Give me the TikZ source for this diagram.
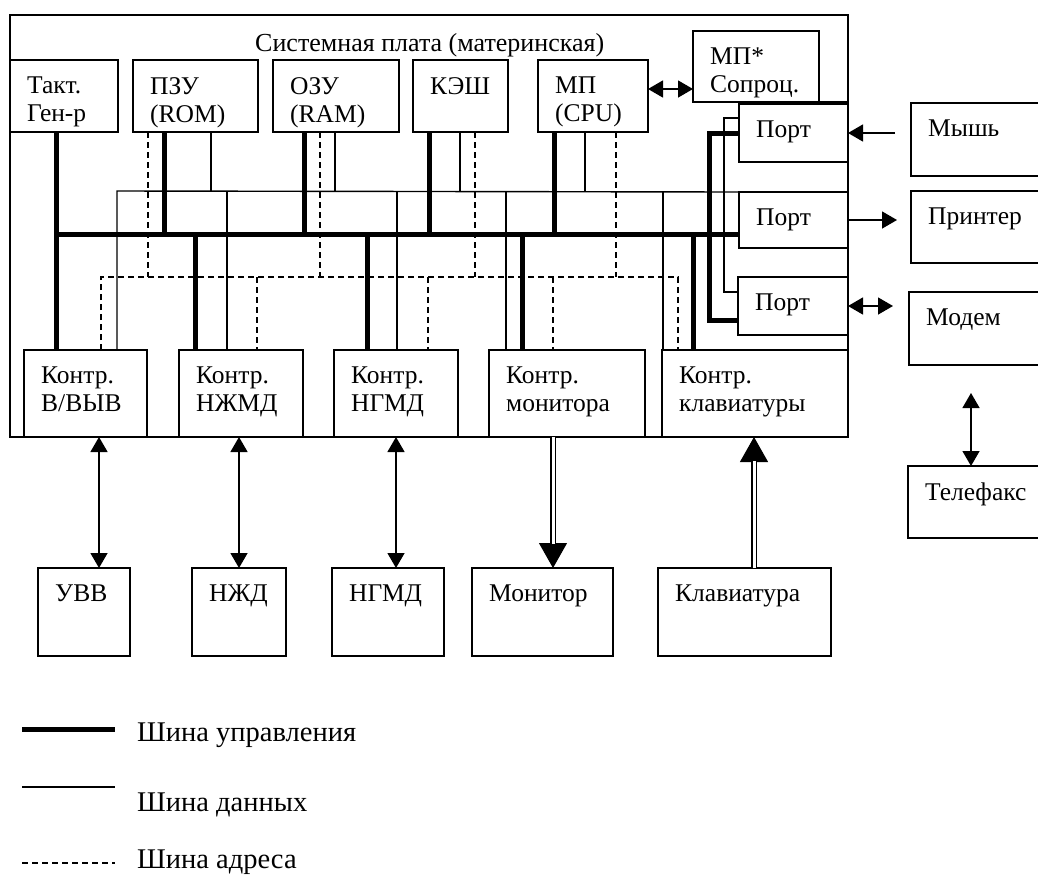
\documentclass[tikz,border=0pt]{standalone}
\usepackage{fontspec}
\setmainfont{Liberation Serif}
\usetikzlibrary{arrows.meta}
\newcommand\fs{\fontsize{25.5}{28}\selectfont}
\newcommand\tfs{\fontsize{26}{28}\selectfont}
\newcommand\lfs{\fontsize{28.5}{30}\selectfont}
\newcommand\mybox[6]{%
  \node[box, minimum width={#4-#2}, minimum height={#5-#3}] (#1) at (#2,#3) {};
  \node[txt] (#1-t) at ([xshift=17pt,yshift=-17pt]#1.north west) {#6};}
\begin{document}
\begin{tikzpicture}[x=1pt,y=-1pt,
  box/.style={draw, line width=1.8pt, inner sep=0pt, outer sep=0pt, anchor=north west},
  txt/.style={anchor=north west, inner sep=0pt, align=left, font=\fs},
  ctrl/.style={line width=5pt},
  data/.style={line width=1.4pt},
  addr/.style={line width=1.4pt, dash pattern=on 6pt off 4pt},
  sarr/.style={line width=1.4pt, >={Triangle[length=15pt,width=17pt]}},
  dbl/.style={double, line width=1.2pt, double distance=3pt},
  big/.style={line width=1pt, >={Triangle[length=25pt,width=28pt]}},
  leg/.style={anchor=north west, inner sep=0pt, font=\lfs}]
\useasboundingbox (0,0) rectangle (1038,876);
\fill[white] (0,0) rectangle (1038,876);

% system board
\node[box] (board) at (10,15) [minimum width=838, minimum height=422] {};
\node[txt, font=\tfs] (title) at (255,33) {Системная плата (материнская)};

% top row
\mybox{tg}{10}{60}{118}{132}{Такт.\\Ген-р}
\mybox{rom}{133}{60}{258}{132}{ПЗУ\\(ROM)}
\mybox{ram}{273}{60}{399}{132}{ОЗУ\\(RAM)}
\mybox{cache}{413}{60}{508}{132}{КЭШ}
\mybox{cpu}{538}{60}{648}{132}{МП\\(CPU)}
\mybox{cop}{693}{31}{819}{102}{МП*\\Сопроц.}
\draw[line width=1.8pt] (cop.south east) -- (cop.south east -| board.east);

% ports
\mybox{p1}{739}{104}{848}{162}{Порт}
\mybox{p2}{739}{192}{848}{248}{Порт}
\mybox{p3}{738}{277}{848}{335}{Порт}

% controllers
\mybox{cio}{24}{350}{147}{437}{Контр.\\В/ВЫВ}
\mybox{chd}{179}{350}{303}{437}{Контр.\\НЖМД}
\mybox{cfd}{334}{350}{458}{437}{Контр.\\НГМД}
\mybox{cmon}{489}{350}{645}{437}{Контр.\\монитора}
\mybox{ckbd}{662}{350}{848}{437}{Контр.\\клавиатуры}

% external devices
\mybox{mouse}{911}{103}{1060}{176}{Мышь}
\mybox{printer}{911}{191}{1060}{263}{Принтер}
\mybox{modem}{909}{292}{1060}{365}{Модем}
\mybox{fax}{908}{466}{1060}{538}{Телефакс}
\mybox{uvv}{38}{568}{130}{656}{УВВ}
\mybox{nzhd}{192}{568}{286}{656}{НЖД}
\mybox{ngmd}{332}{568}{444}{656}{НГМД}
\mybox{mon}{472}{568}{613}{656}{Монитор}
\mybox{kbd}{658}{568}{831}{656}{Клавиатура}

% data bus (thin)
\draw[data] (cio.north -| 117,0) -- (117,191) -- (p2.north west);
\draw[data] (rom.south -| 211,0) -- (211,191);
\draw[data] (ram.south -| 335,0) -- (335,191);
\draw[data] (cache.south -| 460,0) -- (460,191);
\draw[data] (cpu.south -| 585,0) -- (585,191);
\draw[data] (227,191) -- (chd.north -| 227,0);
\draw[data] (397,191) -- (cfd.north -| 397,0);
\draw[data] (506,191) -- (cmon.north -| 506,0);
\draw[data] (663,191) -- (ckbd.north -| 663,0);
\draw[data] (p1.west |- 0,118) -- (724,118) -- (724,292) -- (p3.west |- 0,292);

% address bus (dashed)
\draw[addr] (cio.north -| 101,0) -- (101,277) -- (678,277) -- (ckbd.north -| 678,0);
\draw[addr] (rom.south -| 148,0) -- (148,277);
\draw[addr] (ram.south -| 320,0) -- (320,277);
\draw[addr] (cache.south -| 475,0) -- (475,277);
\draw[addr] (cpu.south -| 616,0) -- (616,277);
\draw[addr] (257,277) -- (chd.north -| 257,0);
\draw[addr] (428,277) -- (cfd.north -| 428,0);
\draw[addr] (553,277) -- (cmon.north -| 553,0);

% control bus (thick)
\draw[ctrl] (tg.south -| 56,0) -- (cio.north -| 56,0);
\draw[ctrl] (56,234) -- (p2.west |- 0,234);
\draw[ctrl] (rom.south -| 164,0) -- (164,234);
\draw[ctrl] (ram.south -| 304,0) -- (304,234);
\draw[ctrl] (cache.south -| 429,0) -- (429,234);
\draw[ctrl] (cpu.south -| 554,0) -- (554,234);
\draw[ctrl] (195,234) -- (chd.north -| 195,0);
\draw[ctrl] (367,234) -- (cfd.north -| 367,0);
\draw[ctrl] (522,234) -- (cmon.north -| 522,0);
\draw[ctrl] (693,234) -- (ckbd.north -| 693,0);
\draw[ctrl] (p1.west |- 0,133) -- (709,133) -- (709,320) -- (p3.west |- 0,320);

% arrows
\draw[sarr,<->] (cpu.east |- 0,89) -- (cop.west |- 0,89);
\coordinate (mouseend) at (895,133);
\coordinate (prnend) at (897,220);
\coordinate (modemend) at (893,306);
\coordinate (faxend) at (971,393);
\draw[sarr,->] (mouseend) -- (p1.east);
\draw[sarr,->] (p2.east) -- (prnend);
\draw[sarr,<->] (p3.east) -- (modemend);
\draw[sarr,<->] (faxend) -- (fax.north -| faxend);
\draw[sarr,<->] (cio.south -| 99,0) -- (uvv.north -| 99,0);
\draw[sarr,<->] (chd.south -| 239,0) -- (nzhd.north -| 239,0);
\draw[sarr,<->] (cfd.south -| 396,0) -- (ngmd.north -| 396,0);
\draw[big,->] (cmon.south -| 553,0) -- (mon.north -| 553,0);
\draw[dbl, shorten >=24pt] (cmon.south -| 553,0) -- (mon.north -| 553,0);
\draw[big,->] (kbd.north -| 754,0) -- (ckbd.south -| 754,0);
\draw[dbl, shorten >=24pt] (kbd.north -| 754,0) -- (ckbd.south -| 754,0);

% legend
\draw[ctrl] (22,729) -- (115,729);
\draw[data] (22,787) -- (115,787);
\draw[addr] (22,863) -- (115,863);
\node[leg] (l1) at (137,723) {Шина управления};
\node[leg] (l2) at (137,793) {Шина данных};
\node[leg] (l3) at (137,850) {Шина адреса};
\end{tikzpicture}
\end{document}
